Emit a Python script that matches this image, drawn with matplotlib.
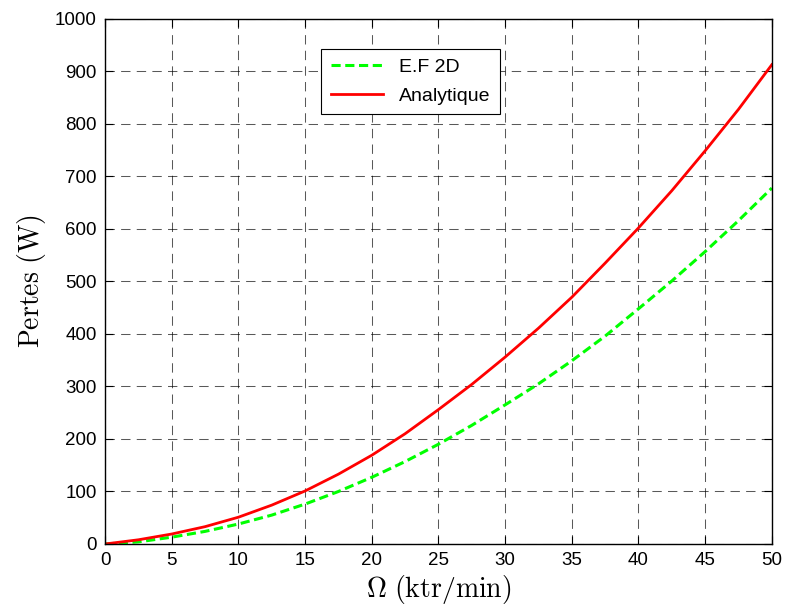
from matplotlib import pyplot as plt
import numpy as np

# speed (ktr/min) and losses (W)
omega = [0, 2.5, 5, 7.5, 10, 12.5, 15, 17.5, 20, 22.5, 25, 27.5, 30,
         32.5, 35, 37.5, 40, 42.5, 45, 47.5, 50]
pertes_ef2d = [0, 4, 13, 24, 38, 55, 76, 100, 127, 157, 190, 226, 265,
               305, 349, 396, 448, 501, 557, 616, 678]
pertes_analytique = [0, 8, 19, 33, 51, 74, 101, 133, 169, 210, 256, 304, 356,
                     411, 470, 535, 602, 673, 749, 828, 913]

x_ticks = list(range(0, 51, 5))
y_ticks = list(range(0, 1001, 100))

plt.rcParams['font.family'] = ['Liberation Sans', 'DejaVu Sans']
plt.rcParams['mathtext.fontset'] = 'cm'

fig = plt.figure(figsize=(7.86, 6.07), dpi=100)
ax = fig.add_axes([0.1336, 0.1038, 0.8484, 0.8649])

ax.plot(omega, pertes_ef2d, color='#00ff00', linestyle=(0, (3, 1.5)), linewidth=2.2, label='E.F 2D')
ax.plot(omega, pertes_analytique, color='#ff0000', linewidth=2.0, label='Analytique')

ax.set_xlim(0, 50)
ax.set_ylim(0, 1000)
ax.set_xticks(x_ticks)
ax.set_yticks(y_ticks)
ax.tick_params(direction='in', length=6, width=0.8, top=True, right=True, labelsize=13.5, pad=6)
ax.grid(True, color='black', linestyle=(0, (9, 6)), linewidth=0.75, alpha=0.65)
for s in ax.spines.values():
    s.set_linewidth(1.0)

ax.set_xlabel(r'$\mathrm{\Omega\ (ktr/min)}$', fontsize=20, labelpad=3)
ax.set_ylabel(r'$\mathrm{Pertes\ (W)}$', fontsize=20, labelpad=5)

leg = ax.legend(loc='upper left', bbox_to_anchor=(0.324, 0.943), borderaxespad=0,
                fontsize=14, frameon=True, fancybox=False, edgecolor='black', framealpha=1,
                handlelength=2.7, borderpad=0.5, labelspacing=0.55)
leg.get_frame().set_linewidth(0.8)

fig.savefig('out.png', dpi=100)
